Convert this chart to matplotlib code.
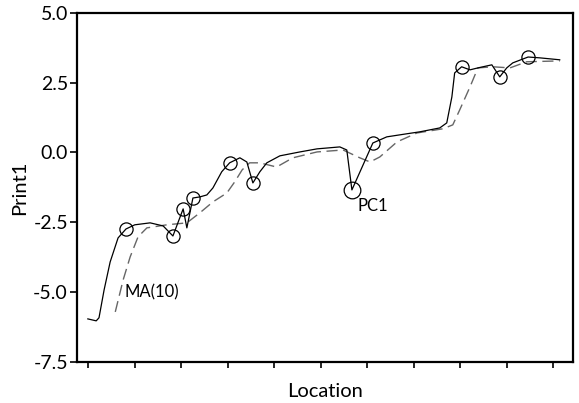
import matplotlib
matplotlib.use("Agg")
import matplotlib.pyplot as plt

plt.rcParams["font.family"] = ["Lato", "DejaVu Sans"]

# PC1 trace (solid), x in tick units along Location
pc1_x = [0.99, 1.17, 1.23, 1.34, 1.47, 1.64, 1.81, 2.00, 2.33, 2.61,
         2.82, 3.04, 3.12, 3.25, 3.40, 3.55, 3.68, 3.87, 4.04, 4.26,
         4.41, 4.54, 4.69, 4.84, 5.12, 5.55, 5.92, 6.41, 6.56, 6.67,
         6.89, 7.12, 7.42, 7.85, 8.13, 8.56, 8.71, 8.82, 8.88, 9.03,
         9.21, 9.38, 9.68, 9.85, 10.00, 10.13, 10.46, 10.71, 11.14]
pc1_y = [-5.96, -6.03, -5.92, -4.92, -3.92, -3.06, -2.74, -2.59, -2.52, -2.63,
         -2.99, -2.02, -2.70, -1.63, -1.59, -1.52, -1.27, -0.69, -0.37, -0.19,
         -0.34, -1.09, -0.69, -0.37, -0.12, 0.02, 0.13, 0.20, 0.09, -1.34,
         -0.52, 0.34, 0.56, 0.67, 0.74, 0.88, 1.06, 1.99, 2.85, 3.07,
         2.96, 3.03, 3.14, 2.71, 3.03, 3.21, 3.42, 3.39, 3.32]

# moving average MA(10) (dashed)
ma_x = [1.58, 1.75, 1.90, 2.07, 2.26, 2.69, 3.12, 3.40, 3.68, 3.98,
        4.15, 4.31, 4.47, 4.69, 5.05, 5.40, 5.92, 6.48, 6.84, 7.06,
        7.27, 7.64, 8.07, 8.63, 8.84, 8.99, 9.21, 9.38, 9.70, 10.07,
        10.43, 11.14]
ma_y = [-5.71, -4.56, -3.74, -3.02, -2.70, -2.59, -2.52, -2.16, -1.77, -1.45,
        -1.05, -0.62, -0.37, -0.37, -0.52, -0.19, 0.02, 0.09, -0.19, -0.34,
        -0.16, 0.38, 0.70, 0.85, 0.99, 1.53, 2.35, 3.03, 3.07, 3.03,
        3.25, 3.28]

# flagged points on PC1 (indices into pc1 arrays)
flag_idx = [6, 10, 11, 13, 18, 21, 31, 39, 43, 46]
big_idx = 29

fig = plt.figure(figsize=(5.79, 4.03), dpi=100)
ax = fig.add_axes([0.133, 0.102, 0.857, 0.866])

ax.plot(ma_x, ma_y, color="#666666", lw=1.0, ls=(0, (8, 4)))
ax.plot(pc1_x, pc1_y, color="black", lw=0.9)
ax.plot([pc1_x[i] for i in flag_idx], [pc1_y[i] for i in flag_idx], "o",
        ms=9.5, mfc="none", mec="black", mew=0.9)
ax.plot(pc1_x[big_idx], pc1_y[big_idx], "o", ms=12, mfc="none", mec="black", mew=0.9)

ax.text(1.78, -5.0, "MA(10)", fontsize=12, va="center", ha="left")
ax.text(6.80, -1.9, "PC1", fontsize=12, va="center", ha="left")

ax.set_xlim(0.757, 11.43)
ax.set_ylim(-7.5, 5.0)
ax.set_xticks(range(1, 12))
ax.set_xticklabels([])
ax.set_yticks([5.0, 2.5, 0.0, -2.5, -5.0, -7.5])
ax.set_yticklabels(["5.0", "2.5", "0.0", "-2.5", "-5.0", "-7.5"], fontsize=14)
ax.tick_params(axis="y", length=5, width=1.2, pad=1.5)
ax.tick_params(axis="x", length=4, width=1.2)
for s in ax.spines.values():
    s.set_linewidth(1.6)

ax.set_xlabel("Location", fontsize=14.5, labelpad=8)
ax.set_ylabel("Print1", fontsize=14.5, labelpad=4)

fig.savefig("out.png", dpi=100)
